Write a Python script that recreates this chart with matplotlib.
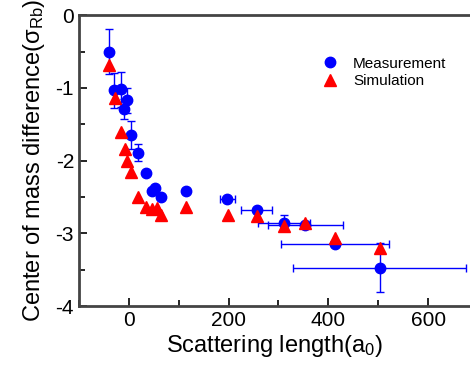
import matplotlib.pyplot as plt
from matplotlib.ticker import MultipleLocator

plt.rcParams['font.family'] = ['Liberation Sans', 'DejaVu Sans']
plt.rcParams['mathtext.fontset'] = 'custom'
plt.rcParams['mathtext.rm'] = 'Liberation Sans'
plt.rcParams['mathtext.it'] = 'Liberation Sans:italic'

# measurement
meas_x = [-39, -29, -16, -3, -9, 4, 19, 35, 47, 53, 64, 114, 197, 256, 311, 354, 413, 503]
meas_y = [-0.50, -1.03, -1.02, -1.17, -1.29, -1.65, -1.89, -2.17, -2.42, -2.37, -2.50,
          -2.41, -2.52, -2.68, -2.85, -2.88, -3.15, -3.47]
meas_yerr = [0.31, 0.24, 0.24, 0.17, 0.14, 0.19, 0.12, 0.0, 0.0, 0.0, 0.0,
             0.03, 0.02, 0.03, 0.11, 0.02, 0.02, 0.34]
meas_xerr = [0, 0, 0, 0, 0, 0, 0, 0, 0, 0, 0, 0, 15, 32, 53, 75, 108, 173]

# simulation
sim_x = [-39, -27, -16, -8, -3, 4, 19, 34, 47, 57, 64, 114, 199, 257, 311, 354, 413, 503]
sim_y = [-0.68, -1.14, -1.60, -1.84, -2.00, -2.16, -2.50, -2.63, -2.66, -2.65, -2.74,
         -2.63, -2.74, -2.76, -2.90, -2.85, -3.06, -3.20]

fig = plt.figure(figsize=(4.7, 3.72), dpi=100)
ax = fig.add_axes([0.168, 0.177, 0.832, 0.782])

ax.errorbar(meas_x, meas_y, yerr=meas_yerr, xerr=meas_xerr, fmt='none',
            ecolor='blue', elinewidth=1, capsize=3, capthick=1, zorder=2)
ax.plot(meas_x, meas_y, 'o', color='blue', markersize=7.5, label='Measurement', zorder=3)
ax.plot(sim_x, sim_y, '^', color='red', markersize=8, label='Simulation', zorder=4)

ax.set_xlim(-100, 684)
ax.set_ylim(-4, 0)
ax.xaxis.set_major_locator(MultipleLocator(200))
ax.xaxis.set_minor_locator(MultipleLocator(100))
ax.yaxis.set_major_locator(MultipleLocator(1))
ax.yaxis.set_minor_locator(MultipleLocator(0.5))
ax.yaxis.set_major_formatter(plt.FuncFormatter(lambda v, p: f"{int(round(v))}"))

ax.tick_params(which='both', direction='in', labelsize=15, width=1.2)
ax.tick_params(which='major', length=6)
ax.tick_params(which='minor', length=4)

for s in ['left', 'bottom', 'top']:
    ax.spines[s].set_linewidth(2)
    ax.spines[s].set_color('#444444')
ax.spines['right'].set_visible(False)

ax.set_xlabel('Scattering length(a$_{0}$)', fontsize=17, labelpad=2)
ax.set_ylabel('Center of mass difference(σ$_{\\rm Rb}$)', fontsize=17, labelpad=6)

ax.legend(loc='upper right', bbox_to_anchor=(0.975, 0.905), frameon=False, fontsize=11,
          handletextpad=0.9, labelspacing=0.25, handlelength=1.2)

fig.savefig('out.png', dpi=100)
